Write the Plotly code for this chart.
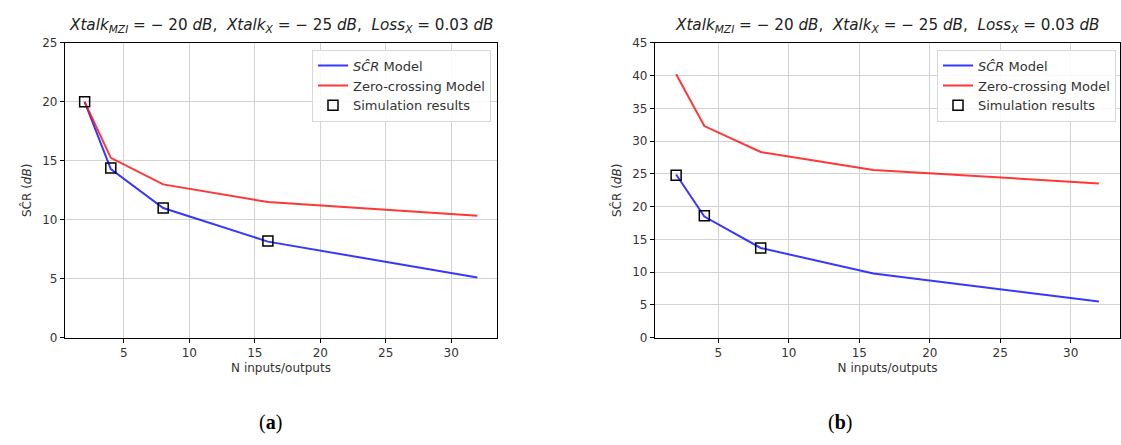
import plotly.graph_objects as go

# ---- data ----
n_model = [2, 4, 8, 16, 32]

# (a)
scr_model_a = [20.0, 14.3, 11.0, 8.15, 5.1]
zero_cross_a = [20.0, 15.25, 13.0, 11.5, 10.35]
n_sim_a = [2, 4, 8, 16]
sim_a = [20.0, 14.4, 11.0, 8.2]

# (b)
scr_model_b = [24.9, 18.5, 13.7, 9.8, 5.55]
zero_cross_b = [40.2, 32.3, 28.35, 25.6, 23.55]
n_sim_b = [2, 4, 8]
sim_b = [24.8, 18.6, 13.7]

x_ticks = [5, 10, 15, 20, 25, 30]
y_ticks_a = [0, 5, 10, 15, 20, 25]
y_ticks_b = [0, 5, 10, 15, 20, 25, 30, 35, 40, 45]

W, H = 1121, 445
BLUE = "rgba(20,20,255,0.85)"
RED = "rgba(255,20,20,0.85)"
FONT = "DejaVu Sans"
TXT = "#333333"

fig = go.Figure()

def add_panel(xa, ya, leg, scr, zc, nsim, sim):
    fig.add_trace(go.Scatter(x=n_model, y=scr, mode="lines", name="<i>SĈR</i> Model",
                             line=dict(color=BLUE, width=2), xaxis=xa, yaxis=ya, legend=leg))
    fig.add_trace(go.Scatter(x=n_model, y=zc, mode="lines", name="Zero-crossing Model",
                             line=dict(color=RED, width=2), xaxis=xa, yaxis=ya, legend=leg))
    fig.add_trace(go.Scatter(x=nsim, y=sim, mode="markers", name="Simulation results",
                             marker=dict(symbol="square-open", size=10, color="black",
                                         line=dict(width=1.5, color="black")),
                             xaxis=xa, yaxis=ya, legend=leg))

add_panel("x", "y", "legend", scr_model_a, zero_cross_a, n_sim_a, sim_a)
add_panel("x2", "y2", "legend2", scr_model_b, zero_cross_b, n_sim_b, sim_b)

ydom = [1 - 341.5 / H, 1 - 37 / H]
axis_common = dict(showline=True, linecolor="black", linewidth=1.2, mirror=True,
                   ticks="outside", ticklen=4, tickcolor="black",
                   showgrid=True, gridcolor="#d3d3d3", gridwidth=1, zeroline=False,
                   tickfont=dict(family=FONT, size=12, color=TXT))

ytitle = "SĈR (<i>dB</i>)"
xtitle = "N inputs/outputs"

fig.update_layout(
    width=W, height=H, margin=dict(l=0, r=0, t=0, b=0),
    paper_bgcolor="white", plot_bgcolor="white",
    font=dict(family=FONT, color=TXT),
    xaxis=dict(domain=[65 / W, 497 / W], range=[0.5, 33.5], tickvals=x_ticks,
               anchor="y", title=dict(text=xtitle, font=dict(size=12, family=FONT, color=TXT), standoff=4),
               **axis_common),
    yaxis=dict(domain=ydom, range=[0, 25], tickvals=y_ticks_a, anchor="x",
               title=dict(text=ytitle, font=dict(size=12, family=FONT, color=TXT), standoff=8),
               **axis_common),
    xaxis2=dict(domain=[655 / W, 1120 / W], range=[0.5, 33.5], tickvals=x_ticks,
                anchor="y2", title=dict(text=xtitle, font=dict(size=12, family=FONT, color=TXT), standoff=4),
                **axis_common),
    yaxis2=dict(domain=ydom, range=[0, 45], tickvals=y_ticks_b, anchor="x2",
                title=dict(text=ytitle, font=dict(size=12, family=FONT, color=TXT), standoff=8),
                **axis_common),
    legend=dict(x=491 / W, y=1 - 44 / H, xanchor="right", yanchor="top",
                bgcolor="rgba(255,255,255,0.85)", bordercolor="#d8d8d8", borderwidth=1,
                font=dict(family=FONT, size=13, color=TXT), tracegroupgap=0, itemwidth=30),
    legend2=dict(x=1116 / W, y=1 - 44 / H, xanchor="right", yanchor="top",
                 bgcolor="rgba(255,255,255,0.85)", bordercolor="#d8d8d8", borderwidth=1,
                 font=dict(family=FONT, size=13, color=TXT), tracegroupgap=0, itemwidth=30),
    showlegend=True,
)

title_txt = ("<i>Xtalk</i><sub><i>MZI</i></sub> = − 20 <i>dB</i>,  "
             "<i>Xtalk</i><sub><i>X</i></sub> = − 25 <i>dB</i>,  "
             "<i>Loss</i><sub><i>X</i></sub> = 0.03 <i>dB</i>")

for xc in [(65 + 497) / 2 / W, (655 + 1120) / 2 / W]:
    fig.add_annotation(x=xc, y=1 - 20 / H, xref="paper", yref="paper", text=title_txt,
                       showarrow=False, xanchor="center", yanchor="middle",
                       font=dict(family=FONT, size=15.2, color="#222222"))

for xc, lab in [(270 / W, "a"), (840 / W, "b")]:
    fig.add_annotation(x=xc, y=1 - 429 / H, xref="paper", yref="paper",
                       text="(<b>" + lab + "</b>)", showarrow=False,
                       xanchor="center", yanchor="middle",
                       font=dict(family="Liberation Serif", size=20, color="black"))

fig.write_html("out.html", config={"displayModeBar": False},
               post_script="document.body.style.margin='0';document.body.style.overflow='hidden';")
